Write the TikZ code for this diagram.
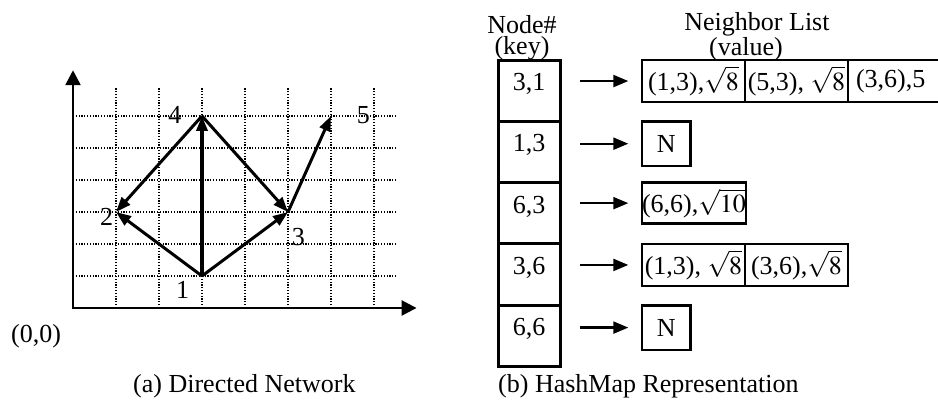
\documentclass[tikz,border=0pt]{standalone}
\usepackage{mathptmx}
\usepackage[no-math]{fontspec}
\setmainfont{Liberation Serif}
\usetikzlibrary{arrows.meta,positioning}
\tikzset{
    gridline/.style={line width=1.2pt,dash pattern=on 1.2pt off 1.6pt},
    axis/.style={line width=2.6pt,{Triangle[length=15pt,width=15pt]}-{Triangle[length=15pt,width=15pt]}},
    netedge/.style={line width=3pt,-{Triangle[length=15pt,width=11pt]}},
    ptarrow/.style={line width=2.2pt,-{Triangle[length=15pt,width=12pt]},shorten <=20pt,shorten >=13.7pt},
    keybox/.style={draw,line width=3pt,minimum width=62pt,minimum height=61.3pt,outer sep=0pt,text height=18pt,text depth=18pt},
    valcell/.style={draw,line width=2.6pt,minimum width=103pt,minimum height=42pt,outer sep=0pt},
    nullbox/.style={draw,line width=2.6pt,minimum width=48.7pt,minimum height=44.7pt,outer sep=0pt}
}
\begin{document}
\begin{tikzpicture}[x=1pt,y=1pt,inner sep=0pt,font=\fontsize{26}{21.5}\selectfont]
\useasboundingbox (0,0) rectangle (938,404);
\clip (0,0) rectangle (938,404);
\begin{scope}[shift={(73,96)},x=43pt,y=32pt]
    \foreach \i in {1,...,7} \draw[gridline] (\i,0) -- (\i,6.9);
    \foreach \j in {1,...,6} \draw[gridline] (0,\j) -- (7.53,\j);
    \coordinate (o) at (0,0);
    \coordinate (xend) at (7.99,0);
    \coordinate (yend) at (0,7.43);
    \draw[axis] (yend) -- (o) -- (xend);
    \coordinate (n1) at (3,1);
    \coordinate (n2) at (1,3);
    \coordinate (n3) at (5,3);
    \coordinate (n4) at (3,6);
    \coordinate (n5) at (6,6);
    \draw[netedge] (n1) -- (n2);
    \draw[netedge,line width=3.6pt] (n1) -- (n4);
    \draw[netedge] (n1) -- (n3);
    \draw[netedge] (n4) -- (n2);
    \draw[netedge] (n4) -- (n3);
    \draw[netedge] (n3) -- (n5);
    \node (l1) at (2.55,0.56) {1};
    \node (l2) at (0.78,2.85) {2};
    \node (l3) at (5.24,2.23) {3};
    \node (l4) at (2.37,6.03) {4};
    \node (l5) at (6.75,6.03) {5};
    \node (orig) at (-0.86,-0.875) {(0,0)};
\end{scope}
\node[align=center] (keyhead) at (522,366.4) {Node\#\\(key)};
\node[align=center] (valhead) at (757,367.2) {Neighbor List\\(value)\hspace*{22pt}};
\node[keybox] (k1) at (529,313.3) {3,1};
\node[keybox,below=0pt of k1] (k2) {1,3};
\node[keybox,below=0pt of k2] (k3) {6,3};
\node[keybox,below=0pt of k3] (k4) {3,6};
\node[keybox,below=0pt of k4] (k5) {6,6};
\node[valcell,anchor=north west] (v11) at ([xshift=82pt]k1.north east) {(1,3),$\sqrt{8}$};
\node[valcell,right=0pt of v11] (v12) {(5,3), $\sqrt{8}$};
\node[valcell,right=0pt of v12,minimum width=100pt,text width=84pt,align=left] (v13) {(3,6),5};
\node[nullbox,anchor=north west] (v21) at ([xshift=82pt]k2.north east) {N};
\node[valcell,anchor=north west,minimum height=41pt] (v31) at ([xshift=82pt]k3.north east) {(6,6),$\sqrt{10}$};
\node[valcell,anchor=north west] (v41) at ([xshift=82pt]k4.north east) {(1,3), $\sqrt{8}$};
\node[valcell,right=0pt of v41] (v42) {(3,6),$\sqrt{8}$};
\node[nullbox,anchor=north west] (v51) at ([xshift=82pt]k5.north east) {N};
\foreach \r in {1,...,5} \draw[ptarrow] (k\r.east |- v\r1.west) -- (v\r1.west);
\node[anchor=west] (capa) at (133,18) {(a) Directed Network};
\node[anchor=west] (capb) at (498,18) {(b) HashMap Representation};
\end{tikzpicture}
\end{document}
